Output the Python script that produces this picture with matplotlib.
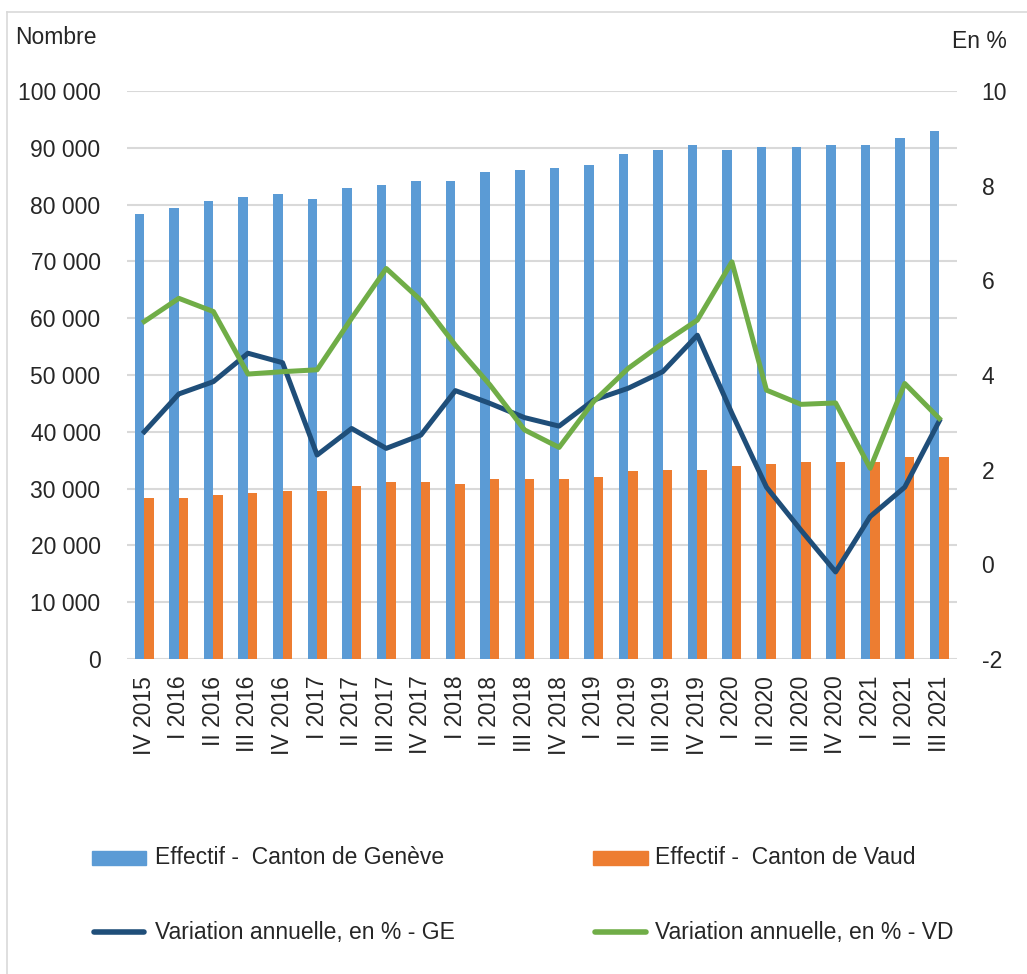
import matplotlib
matplotlib.use("Agg")
import matplotlib.pyplot as plt
from matplotlib.patches import Rectangle
from matplotlib.lines import Line2D
from matplotlib.ticker import FuncFormatter, FixedLocator
import numpy as np

categories = ["IV 2015", "I 2016", "II 2016", "III 2016", "IV 2016", "I 2017", "II 2017",
              "III 2017", "IV 2017", "I 2018", "II 2018", "III 2018", "IV 2018", "I 2019",
              "II 2019", "III 2019", "IV 2019", "I 2020", "II 2020", "III 2020", "IV 2020",
              "I 2021", "II 2021", "III 2021"]

effectif_ge = [78400, 79350, 80630, 81290, 81920, 80930, 82860, 83510, 84150, 84150,
               85740, 86030, 86380, 87030, 88910, 89550, 90490, 89550, 90200, 90200,
               90490, 90490, 91780, 93010]
effectif_vd = [28290, 28290, 28930, 29280, 29580, 29580, 30520, 31160, 31160, 30810,
               31750, 31750, 31750, 32100, 33040, 33330, 33330, 33980, 34330, 34630,
               34630, 34630, 35560, 35560]
var_ge = [2.80, 3.60, 3.86, 4.46, 4.26, 2.31, 2.87, 2.45, 2.73, 3.67, 3.40, 3.10, 2.92,
          3.47, 3.72, 4.07, 4.84, 3.19, 1.63, 0.72, -0.16, 1.01, 1.63, 3.03]
var_vd = [5.13, 5.62, 5.34, 4.02, 4.07, 4.11, 5.20, 6.25, 5.58, 4.63, 3.79, 2.84, 2.47,
          3.44, 4.14, 4.67, 5.16, 6.39, 3.68, 3.38, 3.41, 2.03, 3.82, 3.08]

legend_labels = ["Effectif -  Canton de Genève", "Effectif -  Canton de Vaud",
                 "Variation annuelle, en % - GE", "Variation annuelle, en % - VD"]

C_GE_BAR = "#5B9BD5"
C_VD_BAR = "#ED7D31"
C_GE_LINE = "#1F4E79"
C_VD_LINE = "#70AD47"
TXT = "#262626"
GRID = "#D9D9D9"

plt.rcParams["font.family"] = ["Liberation Sans", "DejaVu Sans"]
FS = 16.5

W, H = 1027, 974
fig = plt.figure(figsize=(W / 100, H / 100), dpi=100)

def fx(px):
    return px / W

def fy(py):
    return 1 - py / H

left, right, top, bottom = 127, 956.6, 91, 659
ax = fig.add_axes([fx(left), fy(bottom), fx(right) - fx(left), (bottom - top) / H])

x = np.arange(len(categories))
bw = 0.275
ax.bar(x - bw / 2, effectif_ge, width=bw, color=C_GE_BAR, zorder=2)
ax.bar(x + bw / 2, effectif_vd, width=bw, color=C_VD_BAR, zorder=2)

ax.set_xlim(-0.5, len(categories) - 0.5)
ax.set_ylim(0, 100000)
ax.yaxis.set_major_locator(FixedLocator(np.arange(0, 100001, 10000)))
ax.yaxis.set_major_formatter(FuncFormatter(lambda v, p: f"{int(v):,}".replace(",", " ")))
ax.grid(axis="y", color=GRID, lw=1.5, zorder=0)
ax.set_axisbelow(True)
for s in ax.spines.values():
    s.set_visible(False)
ax.set_xticks(x)
ax.set_xticklabels(categories, rotation=90, va="top", ha="center")
ax.tick_params(axis="x", length=0, pad=12, labelsize=FS, labelcolor=TXT)
ax.tick_params(axis="y", length=0, pad=19, labelsize=FS, labelcolor=TXT)

ax2 = ax.twinx()
ax2.plot(x, var_ge, color=C_GE_LINE, lw=3.6, solid_joinstyle="round", zorder=3)
ax2.plot(x, var_vd, color=C_VD_LINE, lw=3.6, solid_joinstyle="round", zorder=4)
ax2.set_ylim(-2, 10)
ax2.yaxis.set_major_locator(FixedLocator(np.arange(-2, 11, 2)))
ax2.yaxis.set_major_formatter(FuncFormatter(lambda v, p: f"{int(round(v))}".replace("\u2212", "-")))
for s in ax2.spines.values():
    s.set_visible(False)
ax2.tick_params(axis="y", length=0, pad=18, labelsize=FS, labelcolor=TXT)

fig.text(fx(15), fy(37.5), "Nombre", fontsize=FS, color=TXT, ha="left", va="center")
fig.text(fx(1007), fy(42), "En %", fontsize=FS, color=TXT, ha="right", va="center")

# outer frame (light gray)
fig.add_artist(Line2D([fx(7), fx(7)], [fy(12), 0], transform=fig.transFigure, color=GRID, lw=1.2))
fig.add_artist(Line2D([fx(7), 1], [fy(12), fy(12)], transform=fig.transFigure, color=GRID, lw=1.2))

# legend
rows = [858, 932]
cols = [(92, 146, 155), (593, 648, 655)]
items = [("patch", C_GE_BAR), ("patch", C_VD_BAR), ("line", C_GE_LINE), ("line", C_VD_LINE)]
for i, (kind, col) in enumerate(items):
    r, c = divmod(i, 2)
    x0, x1, tx = cols[c]
    yc = rows[r]
    if kind == "patch":
        fig.add_artist(Rectangle((fx(x0), fy(yc + 7)), fx(x1) - fx(x0), 14 / H,
                                 transform=fig.transFigure, color=col))
    else:
        fig.add_artist(Line2D([fx(x0 + 2), fx(x1 - 2)], [fy(yc), fy(yc)], transform=fig.transFigure,
                              color=col, lw=4.0, solid_capstyle="round"))
    fig.text(fx(tx), fy(yc), legend_labels[i], fontsize=FS, color=TXT, ha="left", va="center")

fig.savefig("out.png", dpi=100)
